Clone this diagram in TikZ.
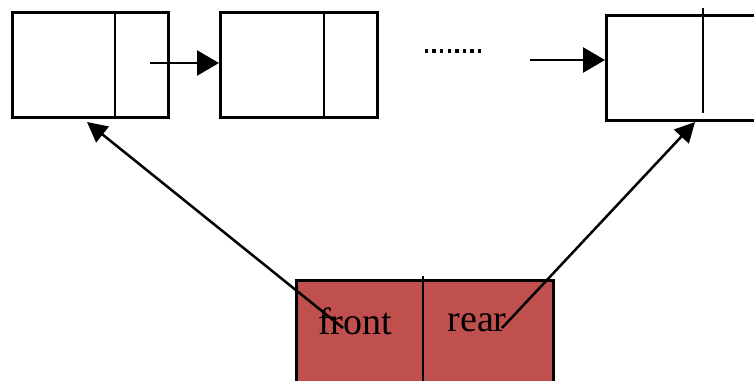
\documentclass[tikz,border=0pt]{standalone}
\usepackage{fontspec}
\setmainfont{Liberation Serif}
\usetikzlibrary{arrows.meta}
\definecolor{qfill}{HTML}{C0504D}
\begin{document}
\begin{tikzpicture}[x=1pt,y=-1pt,
  cell/.style={draw,line width=2.8pt,minimum height=105pt,inner sep=0pt,anchor=north west},
  divider/.style={line width=2.8pt},
  link/.style={line width=2.5pt,-{Triangle[length=22pt,width=25pt]}},
  ptr/.style={line width=2.5pt,-{Triangle[length=20pt,width=20pt]}},
  lbl/.style={font=\fontsize{38}{40}\selectfont,inner sep=0pt,anchor=base}]
\useasboundingbox (0,0) rectangle (754,380);
\clip (0,0) rectangle (754,380);
% list nodes
\node[cell,minimum width=156pt] (n1) at (11,11) {};
\node[cell,minimum width=157pt] (n2) at (219,11) {};
\node[cell,minimum width=170pt] (n3) at (605,14) {};
\draw[divider] (115,11) -- (115,116);
\draw[divider] (324,11) -- (324,116);
\draw[divider] (703,8) -- (703,113);
% links between nodes
\coordinate (p1) at (150,63);
\draw[link] (p1) -- (p1 -| n2.west);
% elided middle of the list
\foreach \i in {0,...,7}
  \fill ({426.5+7.6*\i-1.7},49.3) rectangle ++(3.4,3.4);
\coordinate (p2) at (530,60);
\draw[link] (p2) -- (p2 -| n3.west);
% queue record
\node[draw,line width=2.8pt,fill=qfill,minimum width=257pt,minimum height=130pt,inner sep=0pt,anchor=north west] (q) at (295,279) {};
\draw[divider] (423,276) -- (423,400);
\node[lbl] (front) at (355,334) {front};
\node[lbl] (rear) at (477,331) {rear};
% front and rear pointers
\coordinate (fs) at (343,328);
\coordinate (fe) at (87,122);
\coordinate (rs) at (502,328);
\coordinate (re) at (695,122);
\draw[ptr] (fs) -- (fe);
\draw[ptr] (rs) -- (re);
\end{tikzpicture}
\end{document}
